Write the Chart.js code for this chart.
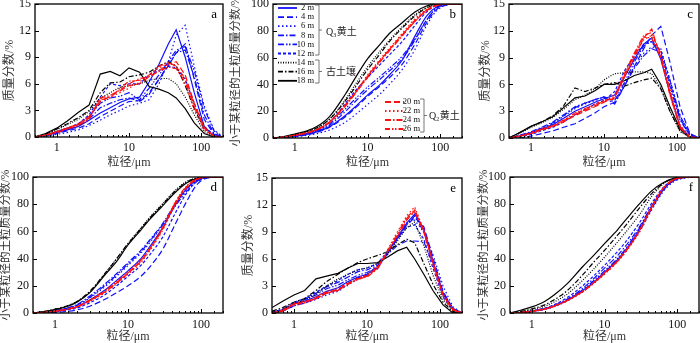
<!DOCTYPE html>
<html>
<head>
<meta charset="utf-8">
<script src="https://cdn.jsdelivr.net/npm/chart.js@4.4.1/dist/chart.umd.min.js"></script>
<style>
  html, body { margin: 0; padding: 0; background: #fff; }
  #wrap { position: relative; width: 700px; height: 343px; overflow: hidden; }
  #wrap canvas { position: absolute; left: 0; top: 0; }
</style>
</head>
<body>
<div id="wrap">
  <canvas id="pa" width="700" height="343"></canvas>
  <canvas id="pb" width="700" height="343"></canvas>
  <canvas id="pc" width="700" height="343"></canvas>
  <canvas id="pd" width="700" height="343"></canvas>
  <canvas id="pe" width="700" height="343"></canvas>
  <canvas id="pf" width="700" height="343"></canvas>
</div>
<script>
// sampling depths
const depthLabels = ['2 m', '4 m', '6 m', '8 m', '10 m', '12 m', '14 m', '16 m', '18 m', '20 m', '22 m', '24 m', '26 m'];

// particle sizes (µm) for the frequency curves and the cumulative curves
const sizeFreq = [0.5, 0.7, 1, 1.4, 2, 2.8, 4, 5.5, 7.5, 10, 14, 19, 26, 35, 45, 60, 80, 110, 150, 200];
const sizeCum = [0.5, 0.7, 1, 1.5, 2, 3, 5, 7, 10, 15, 20, 30, 45, 65, 90, 130, 200];

// mass fraction (%) per size, one row per depth
const freqA = [
  [0, 0.2, 0.5, 0.8, 1.2, 1.9, 2.7, 3.3, 3.9, 4.3, 4.5, 6.2, 8.2, 10.5, 12.1, 9.0, 5.0, 1.2, 0.1, 0],
  [0, 0.1, 0.4, 0.7, 1.0, 1.5, 2.3, 2.9, 3.5, 4.0, 4.1, 5.0, 6.5, 8.0, 9.5, 10.5, 6.5, 2.0, 0.3, 0],
  [0, 0.1, 0.3, 0.5, 0.8, 1.3, 1.9, 2.5, 3.0, 3.5, 3.8, 4.2, 6.0, 8.5, 11.5, 12.6, 8.0, 3.5, 0.8, 0],
  [0, 0.2, 0.5, 0.9, 1.3, 2.0, 3.3, 3.8, 4.2, 4.4, 4.0, 4.8, 6.5, 8.2, 9.5, 9.8, 6.8, 2.5, 0.4, 0],
  [0, 0.2, 0.6, 1.0, 1.5, 2.3, 3.8, 4.4, 4.6, 5.0, 4.2, 5.5, 7.0, 8.5, 9.8, 10.2, 7.5, 3.2, 0.7, 0],
  [0, 0.2, 0.6, 1.0, 1.5, 2.5, 4.5, 6.0, 5.8, 6.0, 6.0, 7.0, 7.5, 8.0, 7.8, 6.5, 3.8, 1.2, 0.2, 0],
  [0, 0.3, 0.8, 1.4, 2.0, 2.9, 4.4, 5.0, 5.6, 5.8, 6.0, 6.4, 6.6, 6.6, 6.0, 4.5, 2.5, 0.6, 0.1, 0],
  [0, 0.3, 0.9, 1.5, 2.2, 3.0, 5.0, 6.1, 6.2, 6.8, 7.0, 7.3, 8.0, 8.5, 8.0, 5.8, 3.2, 0.9, 0.1, 0],
  [0, 0.4, 1.0, 1.8, 2.8, 3.6, 7.1, 7.4, 6.9, 7.8, 7.3, 5.7, 5.4, 5.0, 4.4, 3.2, 1.6, 0.4, 0, 0],
  [0, 0.2, 0.6, 1.0, 1.5, 2.3, 4.0, 4.6, 5.2, 5.8, 6.0, 6.8, 7.5, 8.2, 8.5, 7.0, 3.8, 1.1, 0.1, 0],
  [0, 0.2, 0.6, 1.0, 1.4, 2.2, 4.3, 4.5, 5.0, 5.5, 6.2, 7.0, 7.8, 8.3, 8.0, 6.0, 3.0, 0.8, 0.1, 0],
  [0, 0.2, 0.5, 0.9, 1.3, 2.0, 4.4, 4.7, 5.3, 6.0, 6.6, 6.8, 7.4, 7.9, 7.7, 6.2, 3.4, 1.0, 0.1, 0],
  [0, 0.2, 0.6, 1.0, 1.4, 2.1, 4.2, 4.4, 5.5, 6.3, 6.4, 7.0, 8.0, 8.4, 8.0, 6.6, 3.6, 1.0, 0.1, 0]
];
const freqC = [
  [0, 0.2, 0.6, 1.0, 1.5, 2.2, 3.0, 3.5, 4.0, 4.4, 4.8, 6.8, 8.8, 10.5, 11.2, 8.8, 5.0, 1.3, 0.1, 0],
  [0, 0.0, 0.2, 0.5, 0.8, 1.2, 1.6, 2.2, 2.8, 3.5, 4.0, 5.8, 8.0, 10.0, 11.5, 12.5, 8.5, 3.5, 0.5, 0],
  [0, 0.2, 0.6, 1.1, 1.6, 2.4, 3.3, 3.8, 4.2, 4.5, 4.0, 6.0, 8.0, 9.5, 10.2, 10.0, 6.5, 2.5, 0.5, 0],
  [0, 0.3, 0.7, 1.2, 1.8, 2.6, 3.5, 3.9, 4.3, 4.6, 3.8, 5.8, 7.8, 9.2, 10.0, 9.6, 6.2, 2.2, 0.3, 0],
  [0, 0.2, 0.6, 1.1, 1.7, 2.5, 3.4, 3.9, 4.3, 4.6, 4.2, 6.2, 8.5, 10.3, 10.8, 9.2, 5.8, 2.0, 0.3, 0],
  [0, 0.1, 0.4, 0.8, 1.2, 1.8, 2.6, 3.2, 3.8, 4.2, 5.2, 7.5, 9.2, 10.5, 10.8, 9.8, 6.5, 2.5, 0.4, 0],
  [0, 0.5, 1.2, 1.7, 2.3, 3.2, 4.3, 4.8, 5.5, 6.5, 7.2, 7.3, 7.4, 7.4, 7.2, 5.6, 3.0, 0.7, 0.1, 0],
  [0, 0.6, 1.3, 1.8, 2.5, 3.6, 5.6, 5.2, 5.6, 6.0, 6.2, 5.8, 6.2, 6.5, 6.7, 5.5, 3.0, 0.8, 0.1, 0],
  [0, 0.6, 1.3, 1.8, 2.4, 3.4, 4.5, 4.7, 5.3, 6.0, 6.0, 6.4, 7.0, 7.3, 7.7, 6.0, 3.5, 1.0, 0.1, 0],
  [0, 0.2, 0.5, 0.9, 1.3, 1.8, 2.5, 3.0, 3.5, 4.0, 4.5, 6.8, 9.0, 11.2, 12.2, 9.0, 5.0, 1.2, 0.1, 0],
  [0, 0.2, 0.6, 1.0, 1.4, 2.0, 2.7, 3.2, 3.8, 4.2, 4.8, 7.0, 9.2, 11.0, 11.5, 9.5, 5.5, 1.5, 0.2, 0],
  [0, 0.2, 0.5, 0.9, 1.3, 1.9, 2.6, 3.1, 3.6, 4.1, 4.6, 7.2, 9.5, 11.5, 11.8, 9.3, 5.2, 1.3, 0.1, 0],
  [0, 0.2, 0.6, 1.0, 1.4, 2.0, 2.8, 3.3, 3.7, 4.1, 4.4, 6.9, 9.3, 11.3, 11.2, 9.0, 4.8, 1.1, 0.1, 0]
];
const freqE = [
  [0, 0.3, 1.0, 1.3, 1.8, 2.4, 2.8, 3.5, 4.0, 4.3, 5.0, 6.7, 8.4, 10.0, 11.0, 9.3, 5.8, 2.2, 0.4, 0],
  [0, 0.2, 0.8, 1.1, 1.6, 2.2, 2.6, 3.3, 3.9, 4.2, 5.2, 6.6, 8.2, 9.8, 10.6, 9.6, 6.2, 2.4, 0.5, 0],
  [0, 0.2, 0.8, 1.1, 1.5, 2.0, 2.4, 3.1, 3.8, 4.3, 5.3, 6.8, 8.4, 10.0, 10.3, 9.0, 6.5, 3.0, 0.7, 0],
  [0, 0.4, 1.1, 1.5, 2.2, 2.9, 3.4, 4.0, 4.6, 4.8, 5.3, 6.5, 7.5, 8.0, 8.0, 7.9, 5.5, 2.3, 0.5, 0],
  [0, 0.3, 1.0, 1.4, 2.0, 2.7, 3.1, 3.7, 4.2, 4.5, 5.1, 6.6, 8.3, 9.8, 10.8, 9.0, 5.6, 2.1, 0.4, 0],
  [0.1, 0.4, 1.2, 1.6, 2.3, 3.0, 3.6, 4.3, 4.8, 5.0, 5.5, 6.8, 8.2, 9.5, 9.8, 8.2, 5.0, 1.8, 0.3, 0],
  [0.1, 0.4, 1.0, 1.4, 2.1, 3.0, 3.8, 4.3, 4.8, 5.0, 5.5, 6.5, 8.0, 9.5, 10.1, 7.5, 4.2, 1.5, 0.2, 0],
  [0.2, 0.6, 1.2, 1.6, 2.5, 3.5, 4.3, 5.0, 5.6, 6.0, 6.4, 6.8, 7.6, 8.2, 7.8, 5.5, 3.2, 1.2, 0.1, 0],
  [0.6, 1.3, 2.0, 2.5, 3.8, 4.1, 4.4, 5.0, 5.5, 5.5, 5.6, 6.2, 6.9, 7.3, 6.0, 4.3, 2.5, 0.9, 0, 0],
  [0, 0.3, 1.0, 1.2, 1.7, 2.3, 2.6, 3.3, 3.8, 4.1, 5.0, 6.8, 8.5, 10.3, 11.4, 9.0, 5.5, 2.0, 0.4, 0],
  [0, 0.3, 1.1, 1.3, 1.8, 2.4, 2.7, 3.4, 3.9, 4.2, 5.2, 7.0, 9.0, 10.8, 11.8, 9.2, 5.8, 2.1, 0.4, 0],
  [0, 0.2, 1.0, 1.2, 1.6, 2.2, 2.5, 3.2, 3.8, 4.0, 4.9, 6.7, 8.6, 10.5, 11.2, 9.3, 5.6, 2.0, 0.4, 0],
  [0, 0.2, 0.9, 1.1, 1.6, 2.2, 2.5, 3.2, 3.7, 4.1, 5.1, 6.9, 8.8, 10.6, 11.5, 9.1, 5.4, 1.9, 0.3, 0]
];

// cumulative mass fraction (%) finer than each size, one row per depth
const cumB = [
  [0, 0.4, 1.3, 2.8, 4.5, 8.5, 17, 24, 32, 40, 47, 58, 76, 91, 98, 100, 100],
  [0, 0.4, 1.2, 2.6, 4.2, 8, 16, 23, 31, 39, 45, 55, 70, 86, 96, 99.5, 100],
  [0, 0.3, 0.9, 2, 3.2, 6, 12, 18, 25, 33, 40, 51, 66, 84, 95, 99.5, 100],
  [0, 0.5, 1.5, 3.2, 5, 9.5, 20, 28, 36, 44, 50, 59, 73, 88, 97, 99.8, 100],
  [0, 0.5, 1.6, 3.5, 5.5, 10.5, 22, 30, 38, 46, 52, 61, 74, 88, 97, 99.8, 100],
  [0, 0.6, 1.8, 3.8, 6, 12, 26, 36, 45, 55, 62, 72, 84, 94, 99, 100, 100],
  [0, 0.8, 2.4, 5, 7.5, 14, 29, 41, 53, 65, 73, 83, 92, 97.5, 99.7, 100, 100],
  [0, 0.8, 2.5, 5, 7.5, 14, 28, 39, 51, 63, 72, 82, 91, 97, 99.5, 100, 100],
  [0, 1, 3, 5.5, 8.5, 16, 33, 46, 59, 70, 78, 86, 94, 98.5, 100, 100, 100],
  [0, 0.7, 2, 4, 6.5, 12, 25, 35, 46, 58, 66, 77, 87, 95, 99, 100, 100],
  [0, 0.7, 2, 4, 6.3, 12, 25, 35, 47, 59, 67, 78, 89, 96, 99.3, 100, 100],
  [0, 0.6, 1.9, 3.8, 6, 11.5, 24, 34, 45, 57, 65, 76, 87, 95, 99, 100, 100],
  [0, 0.7, 2, 4, 6.2, 11.8, 24.5, 34.5, 46, 58, 66, 77, 88, 95.5, 99.2, 100, 100]
];
const cumD = [
  [0, 0.4, 1.3, 2.9, 4.6, 9.5, 17.5, 24, 31, 40, 49, 63, 80, 92, 98, 100, 100],
  [0, 0.1, 0.4, 1.2, 2.3, 5, 10.5, 15, 20, 27, 34, 47, 66, 83, 95, 99.5, 100],
  [0, 0.5, 1.6, 3.4, 5.5, 11, 20, 27, 35, 44, 52, 65, 80, 91, 97.5, 99.8, 100],
  [0, 0.6, 1.8, 3.8, 6.2, 12.5, 22, 29, 37, 46, 54, 66, 81, 92, 97.8, 99.8, 100],
  [0, 0.5, 1.7, 3.6, 5.8, 11.5, 21, 28, 36, 45, 53, 65, 79, 90, 97, 99.7, 100],
  [0, 0.3, 1, 2.2, 3.6, 7.5, 14, 20, 27, 35, 43, 56, 74, 89, 97, 99.7, 100],
  [0, 1, 2.7, 5.3, 8.3, 15.5, 30, 40, 51, 62.5, 70.5, 80.5, 90.5, 97, 99.5, 100, 100],
  [0, 1, 2.8, 5.5, 8.5, 16, 30, 40, 51, 62, 70, 80, 90, 96.5, 99.3, 100, 100],
  [0, 1, 2.5, 5, 8, 15, 29, 38, 50, 61, 69, 79, 89, 96, 99, 100, 100],
  [0, 0.4, 1.3, 2.8, 4.5, 9, 16, 22, 29, 38, 47, 62, 81, 93, 98.5, 100, 100],
  [0, 0.4, 1.2, 2.7, 4.3, 8.5, 15.5, 21.5, 28.5, 37, 46, 61, 80, 92.5, 98.3, 100, 100],
  [0, 0.4, 1.3, 2.9, 4.6, 9.2, 16.5, 22.5, 29.5, 38.5, 47.5, 62.5, 81.5, 93.5, 98.7, 100, 100],
  [0, 0.5, 1.4, 3, 4.8, 9.5, 17, 23, 30, 39, 48, 63, 82, 94, 98.8, 100, 100]
];
const cumF = [
  [0, 0.3, 1.2, 3, 5, 9.2, 16.5, 22.5, 30, 39, 47, 61, 78, 91, 97.5, 99.7, 100],
  [0, 0.3, 1.1, 2.8, 4.8, 8.8, 16, 22, 29.5, 38.5, 46.5, 60, 77, 90.5, 97.5, 99.7, 100],
  [0, 0.3, 1.1, 2.7, 4.6, 8.6, 15.5, 21.5, 29, 38, 46, 59.5, 76, 89.5, 96.5, 99.3, 100],
  [0, 0.4, 1.4, 3.3, 5.5, 10, 18, 25, 33, 42, 50, 63, 79, 91.5, 97.5, 99.7, 100],
  [0, 0.3, 1.2, 3, 5, 9.3, 17, 23.5, 31, 40, 48, 62, 79, 91, 97.5, 99.7, 100],
  [0, 0.5, 1.6, 3.6, 6, 11, 20, 27, 35, 45, 53, 66, 81, 92.5, 98, 99.8, 100],
  [0, 1, 2.5, 5, 8, 13.5, 24, 32, 41, 52, 60, 72, 86, 95, 99, 100, 100],
  [0, 1.2, 3, 6, 9.5, 16, 28, 37, 46, 57, 65, 77, 88, 95.5, 99, 100, 100],
  [0, 2, 4.5, 8.5, 13, 21, 34, 42, 51, 61, 69, 80, 90, 96, 99, 100, 100],
  [0, 0.3, 1.2, 3, 5, 9, 16, 22, 29, 38, 46, 60, 78, 92, 98, 99.8, 100],
  [0, 0.3, 1.1, 2.8, 4.8, 8.7, 15.5, 21.5, 28.5, 37.5, 45.5, 59, 77, 91.5, 97.8, 99.7, 100],
  [0, 0.3, 1.2, 3, 5, 9, 16, 22, 29.5, 38.5, 46.5, 60.5, 78.5, 92, 98, 99.8, 100],
  [0, 0.3, 1.1, 2.9, 4.9, 8.8, 15.8, 21.8, 29, 38, 46, 60, 78, 92, 98, 99.8, 100]
];

// line styles per depth: Q3 loess blue, palaeosol black, Q2 loess red
const BLUE = '#1010ff', BLACK = '#000000', RED = '#ff1010';
const lineColors = [BLUE, BLUE, BLUE, BLUE, BLUE, BLUE, BLACK, BLACK, BLACK, RED, RED, RED, RED];
const lineDashes = [
  [], [6, 3], [1.5, 2.5], [6, 2, 1.5, 2], [6, 2, 1.5, 1.5, 1.5, 2], [3, 2],
  [1, 1.5], [5, 2, 1.5, 2], [],
  [6, 3], [1.5, 2.5], [6, 2, 1.5, 2], [5, 2, 1.5, 1.5, 1.5, 2]
];
const lineOrder = [2, 2, 2, 2, 2, 2, 1, 1, 1, 0, 0, 0, 0];

const SERIF = "'Liberation Serif', 'Times New Roman', serif";
const CJK = "'Liberation Serif', 'Noto Sans CJK SC', serif";
const TITLE_FREQ = '质量分数/%';
const TITLE_CUM = '小于某粒径的土粒质量分数/%';
const TITLE_X = '粒径/μm';

function isDecade(v) {
  const l = Math.log10(v);
  return Math.abs(l - Math.round(l)) < 1e-6;
}

// inward tick marks, frame and panel letter
const framePlugin = {
  id: 'frame',
  afterDatasetsDraw(chart, args, opts) {
    const {ctx, chartArea: a, scales: {x, y}} = chart;
    ctx.save();
    ctx.strokeStyle = '#000';
    ctx.lineWidth = 1;
    ctx.beginPath();
    x.ticks.forEach(t => {
      const px = Math.round(x.getPixelForValue(t.value)) + 0.5;
      const len = isDecade(t.value) ? 4 : 2;
      ctx.moveTo(px, a.bottom);
      ctx.lineTo(px, a.bottom - len);
    });
    y.ticks.forEach(t => {
      const py = Math.round(y.getPixelForValue(t.value)) + 0.5;
      ctx.moveTo(a.left, py);
      ctx.lineTo(a.left + 4, py);
    });
    ctx.stroke();
    ctx.lineWidth = 1.3;
    ctx.strokeRect(a.left, a.top, a.right - a.left, a.bottom - a.top);
    ctx.fillStyle = '#000';
    ctx.font = '13px ' + SERIF;
    ctx.textAlign = 'right';
    ctx.textBaseline = 'middle';
    ctx.fillText(opts.letter, a.right - 6, a.top + 11);
    ctx.restore();
  }
};

// grouped legend with brackets, drawn inside panel b
function drawGroupLabel(ctx, x, y, sub, tail) {
  ctx.textAlign = 'left';
  ctx.textBaseline = 'middle';
  ctx.font = '10px ' + SERIF;
  ctx.fillText('Q', x, y);
  const qw = ctx.measureText('Q').width;
  ctx.font = '6px ' + SERIF;
  ctx.fillText(sub, x + qw, y + 3);
  ctx.font = '10px ' + CJK;
  ctx.fillText(tail, x + qw + 3.5, y);
}

function drawBracket(ctx, x, y0, y1) {
  ctx.beginPath();
  ctx.moveTo(x - 4, y0); ctx.lineTo(x, y0); ctx.lineTo(x, y1); ctx.lineTo(x - 4, y1);
  const ym = (y0 + y1) / 2;
  ctx.moveTo(x, ym); ctx.lineTo(x + 3, ym);
  ctx.stroke();
}

const legendPlugin = {
  id: 'groupLegend',
  afterDatasetsDraw(chart) {
    const ctx = chart.ctx;
    const ds = chart.data.datasets;
    ctx.save();
    const row = (i, x0, x1, tx, y) => {
      ctx.strokeStyle = ds[i].borderColor;
      ctx.lineWidth = 1.8;
      ctx.setLineDash(ds[i].borderDash);
      ctx.beginPath();
      ctx.moveTo(x0, y); ctx.lineTo(x1, y);
      ctx.stroke();
      ctx.setLineDash([]);
      ctx.fillStyle = '#111';
      ctx.font = '8.5px ' + SERIF;
      ctx.textAlign = 'right';
      ctx.textBaseline = 'middle';
      ctx.fillText(ds[i].label, tx, y);
    };
    for (let i = 0; i < 9; i++) row(i, 278, 297, 314, 8 + i * 9.1);
    for (let i = 9; i < 13; i++) row(i, 385, 404, 420, 102 + (i - 9) * 9);
    ctx.strokeStyle = '#555';
    ctx.lineWidth = 0.8;
    drawBracket(ctx, 319, 5, 55);
    drawBracket(ctx, 319, 60, 83);
    drawBracket(ctx, 424, 99, 132);
    ctx.fillStyle = '#222';
    drawGroupLabel(ctx, 326, 32, '3', '黄土');
    ctx.font = '10px ' + CJK;
    ctx.textAlign = 'left';
    ctx.fillText('古土壤', 326, 72);
    drawGroupLabel(ctx, 429, 116, '2', '黄土');
    ctx.restore();
  }
};

function makePanel(p) {
  const cum = p.kind === 'cum';
  const sizes = cum ? sizeCum : sizeFreq;
  const datasets = p.rows.map((vals, i) => ({
    label: depthLabels[i],
    data: sizes.map((s, j) => ({x: s, y: vals[j]})),
    borderColor: lineColors[i],
    borderDash: lineDashes[i],
    borderWidth: 1.2,
    pointRadius: 0,
    fill: false,
    tension: 0,
    cubicInterpolationMode: cum ? 'monotone' : 'default',
    order: lineOrder[i]
  }));
  const yTitleSize = cum ? 11.5 : 12;
  const axisLeft = p.axisLeft;
  const plugins = [framePlugin];
  if (p.legend) plugins.push(legendPlugin);
  new Chart(document.getElementById(p.id), {
    type: 'line',
    data: {datasets},
    plugins,
    options: {
      responsive: false,
      animation: false,
      devicePixelRatio: 1,
      layout: {padding: {left: axisLeft, top: p.T, right: 700 - p.R, bottom: 0}},
      plugins: {
        legend: {display: false},
        tooltip: {enabled: false},
        frame: {letter: p.letter}
      },
      scales: {
        x: {
          type: 'logarithmic',
          min: 0.5,
          max: 200,
          grid: {display: false, drawTicks: false},
          border: {display: false},
          ticks: {
            autoSkip: false,
            maxRotation: 0,
            padding: p.xTickY - p.B - 7.2,
            color: '#111',
            font: {family: SERIF, size: 12},
            callback: v => (isDecade(v) && v >= 1 ? String(v) : '')
          },
          title: {
            display: true,
            text: TITLE_X,
            color: '#333',
            font: {family: CJK, size: 12},
            padding: {top: 0, bottom: 343 - 7.2 - p.xTitleY}
          },
          afterFit: s => { s.height = 343 - p.B; s.paddingLeft = 0; s.paddingRight = 0; }
        },
        y: {
          min: 0,
          max: cum ? 100 : 15,
          grid: {display: false, drawTicks: false},
          border: {display: false},
          ticks: {
            stepSize: cum ? 10 : 3,
            padding: 4,
            color: '#111',
            font: {family: SERIF, size: 12}
          },
          title: {
            display: true,
            text: cum ? TITLE_CUM : TITLE_FREQ,
            color: '#333',
            font: {family: CJK, size: yTitleSize},
            padding: {top: p.yTitleX - yTitleSize * 0.6 - axisLeft, bottom: 0}
          },
          afterFit: s => { s.width = p.L - axisLeft; s.paddingTop = 0; s.paddingBottom = 0; }
        }
      }
    }
  });
}

const panels = [
  {id: 'pa', kind: 'freq', rows: freqA, letter: 'a', L: 35, T: 4, R: 223, B: 137, axisLeft: 0, yTitleX: 10, xTickY: 148, xTitleY: 163},
  {id: 'pb', kind: 'cum', rows: cumB, letter: 'b', L: 273, T: 4, R: 462, B: 138, axisLeft: 228, yTitleX: 236, xTickY: 148, xTitleY: 163, legend: true},
  {id: 'pc', kind: 'freq', rows: freqC, letter: 'c', L: 509, T: 4, R: 699, B: 138, axisLeft: 478, yTitleX: 486, xTickY: 148, xTitleY: 163},
  {id: 'pd', kind: 'cum', rows: cumD, letter: 'd', L: 33, T: 177, R: 223, B: 313, axisLeft: 0, yTitleX: 6, xTickY: 325, xTitleY: 337},
  {id: 'pe', kind: 'freq', rows: freqE, letter: 'e', L: 272, T: 178, R: 462, B: 313, axisLeft: 241, yTitleX: 249, xTickY: 325, xTitleY: 337},
  {id: 'pf', kind: 'cum', rows: cumF, letter: 'f', L: 510, T: 177, R: 699, B: 313, axisLeft: 476, yTitleX: 484, xTickY: 325, xTitleY: 337}
];
panels.forEach(makePanel);
</script>
</body>
</html>
